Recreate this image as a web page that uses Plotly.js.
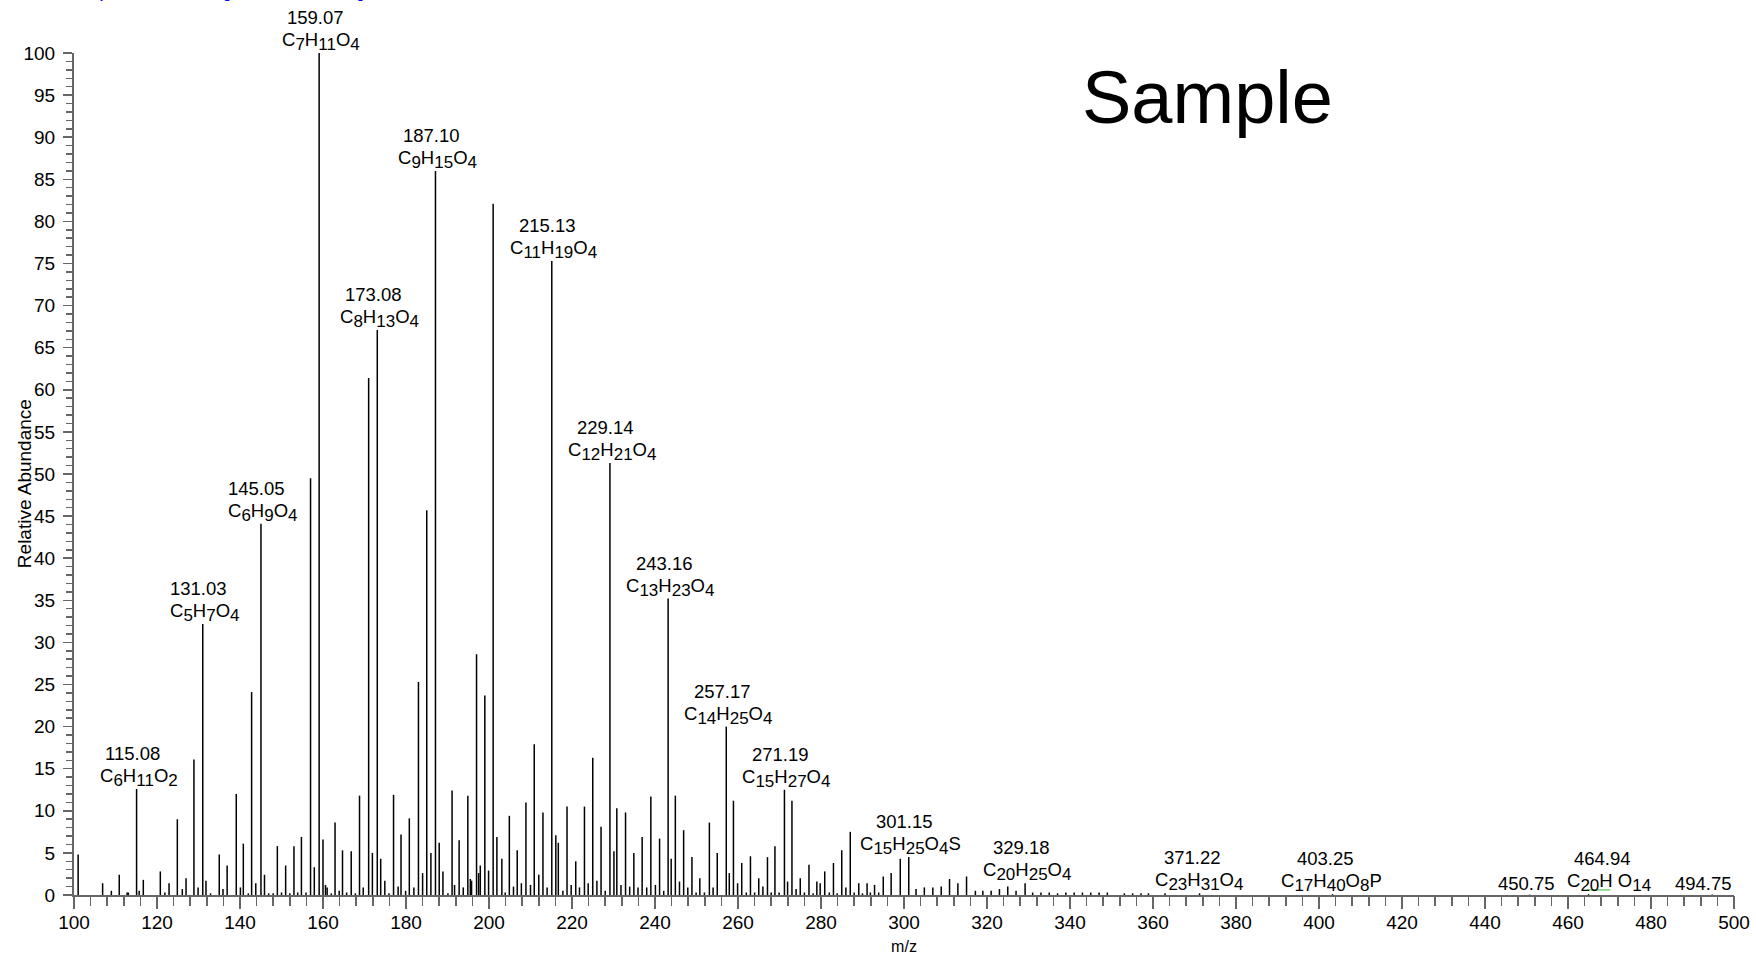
<!DOCTYPE html>
<html><head><meta charset="utf-8">
<script src="https://cdn.plot.ly/plotly-3.0.1.min.js"></script>
<style>html,body{margin:0;padding:0;background:#fff}#chart{width:1756px;height:955px}</style>
</head><body><div id="chart"></div>
<script>
// ---- data ----
const peakMz = [
101.0,106.9,109.0,110.9,112.8,113.1,115.08,115.7,116.7,120.8,
121.9,122.9,124.9,126.1,127.0,128.9,129.9,131.03,131.8,132.9,
135.0,135.9,136.9,139.1,140.1,140.8,142.0,142.8,143.8,145.05,
145.9,146.9,148.0,149.0,150.0,151.0,152.0,153.0,153.9,154.8,
155.9,157.0,157.9,159.07,160.0,160.6,161.0,162.0,162.9,163.9,
164.7,165.7,166.8,167.8,168.8,169.7,171.0,171.9,173.08,173.9,
174.9,175.9,177.0,178.1,178.8,179.9,180.8,181.9,183.0,184.0,
185.0,186.0,187.10,188.0,188.9,190.1,191.1,191.7,192.8,193.8,
194.9,195.5,195.8,197.0,197.5,197.9,199.0,199.9,201.0,201.9,
203.1,203.9,204.9,205.9,206.8,207.8,208.9,210.0,210.9,212.0,
213.0,214.0,215.13,216.1,216.7,217.8,218.8,219.8,220.9,221.8,
223.0,223.9,225.0,226.0,227.0,228.0,229.14,230.1,230.8,231.8,
232.9,233.9,234.9,235.9,236.9,238.0,239.0,240.1,241.1,242.1,
243.16,243.9,244.9,245.9,246.9,247.9,248.9,249.9,250.8,251.9,
253.1,254.0,255.0,257.17,257.9,258.9,259.9,260.9,262.0,263.0,
264.0,265.0,266.0,267.1,268.0,268.9,269.9,271.19,271.95,273.0,
274.0,275.0,276.0,277.1,278.1,279.0,279.8,280.9,282.0,283.0,
283.9,285.0,286.0,287.05,288.0,289.1,290.0,291.1,291.9,292.9,
293.9,295.0,296.9,299.1,301.15,302.9,304.9,306.95,308.97,310.97,
312.98,315.07,317.2,319.0,321.0,323.0,325.0,327.0,329.18,331.0,
333.0,335.0,337.0,339.0,341.0,343.0,345.0,347.0,349.0,353.1,
355.1,357.1,358.9,362.9,371.22,403.25,450.75,464.94,494.75
];
const peakAbundance = [
4.8,1.4,0.5,2.4,0.3,0.3,12.6,0.5,1.8,2.8,
0.3,1.4,9.0,0.7,2.0,16.1,0.9,32.2,1.7,0.2,
4.8,0.7,3.5,12.0,0.9,6.1,0.2,24.1,1.4,44.1,
2.4,0.2,0.2,5.8,0.3,3.5,0.2,5.8,0.3,6.9,
0.3,49.5,3.3,100,6.6,1.2,0.9,0.2,8.6,0.5,
5.3,0.3,5.2,0.2,11.8,0.9,61.4,5.0,67.1,4.3,
1.7,0.2,11.9,1.0,7.2,0.5,9.1,0.9,25.3,2.6,
45.7,5.0,86.0,6.2,2.8,0.2,12.4,1.2,6.5,0.9,
11.8,1.9,1.7,28.6,2.6,3.5,23.7,2.9,82.1,6.9,
4.3,0.3,9.4,1.0,5.3,1.4,11.0,1.2,17.9,2.4,
9.8,0.9,75.3,7.1,6.2,0.5,10.5,1.2,4.0,0.9,
10.5,1.4,16.3,1.7,8.1,0.5,51.3,5.2,10.3,1.2,
9.8,1.0,5.0,0.9,6.9,0.9,11.7,1.2,6.7,0.5,
35.2,4.3,11.8,1.6,7.7,0.9,4.5,0.3,2.0,0.3,
8.6,0.9,5.0,20.0,2.6,11.2,1.4,3.8,0.3,4.6,
0.3,2.0,1.0,4.5,0.3,5.8,0.3,12.5,1.6,11.2,
0.7,2.0,0.3,3.6,0.2,1.6,1.4,2.8,0.3,3.8,
0.2,5.3,0.9,7.5,0.3,1.4,0.2,1.4,0.3,1.2,
0.3,2.2,2.6,4.3,4.5,0.7,0.9,0.9,1.0,1.9,
1.4,2.2,0.5,0.5,0.5,0.7,1.0,0.5,1.4,0.3,
0.3,0.3,0.2,0.3,0.3,0.3,0.3,0.3,0.3,0.2,
0.2,0.2,0.2,0.2,0.2,0.1,0.05,0.1,0.05
];
const labelMz = [115.08,131.03,145.05,159.07,173.08,187.10,215.13,229.14,243.16,257.17,271.19,301.15,329.18,371.22,403.25,450.75,464.94,494.75];
const labelFormula = ["C6H11O2","C5H7O4","C6H9O4","C7H11O4","C8H13O4","C9H15O4","C11H19O4","C12H21O4","C13H23O4","C14H25O4","C15H27O4","C15H25O4S","C20H25O4","C23H31O4","C17H40O8P","","C20H O14",""];
const greenTraceMz = [464.6, 470.2];
const greenTraceAbundance = [0.6, 0.6];
const xTickStart = 100, xTickStep = 20, xMinorStep = 4;
const yTickStep = 5, yMinorStep = 1;
const headerText = "T: FTMS - p ESI Full ms [100.00-500.00]";
const sampleText = "Sample";
const xTitle = "m/z";
const yTitle = "Relative Abundance";

// ---- build traces ----
const FONT = "Liberation Sans, Arial, Helvetica, sans-serif";
const sx = [], sy = [];
peakMz.forEach((m, i) => { sx.push(m, m, null); sy.push(0, peakAbundance[i], null); });

const traces = [
  {x: sx, y: sy, type: 'scatter', mode: 'lines', line: {color: '#000', width: 1.5}, hoverinfo: 'skip', showlegend: false},
  {x: greenTraceMz, y: greenTraceAbundance, xaxis: 'x2', type: 'scatter', mode: 'lines', line: {color: '#33bb33', width: 1}, hoverinfo: 'skip', showlegend: false}
];

function fmtFormula(f) {
  return f.replace(/(\d+)/g, '<sub><span style="font-size:17px">$1</span></sub>');
}
const LABEL_SIZE = 18.5;
const labelShift = {"464.94": 18, "494.75": -6, "403.25": -3, "371.22": -3};
const annotations = [];
labelMz.forEach((m, i) => {
  let best = 0, bd = 1e9;
  peakMz.forEach((p, j) => { const d = Math.abs(p - m); if (d < bd) { bd = d; best = j; } });
  const h = peakAbundance[best];
  const key = m.toFixed(2);
  const sh = labelShift[key] || 0;
  if (labelFormula[i]) {
    annotations.push({x: m, y: h, xref: 'x', yref: 'y', text: fmtFormula(labelFormula[i]), showarrow: false,
      xanchor: 'center', yanchor: 'bottom', xshift: sh + 2, yshift: -3, font: {family: FONT, size: LABEL_SIZE, color: '#000'}});
    annotations.push({x: m, y: h, xref: 'x', yref: 'y', text: key, showarrow: false,
      xanchor: 'center', yanchor: 'bottom', xshift: sh - 4, yshift: 23, font: {family: FONT, size: LABEL_SIZE, color: '#000'}});
  } else {
    annotations.push({x: m, y: h, xref: 'x', yref: 'y', text: key, showarrow: false,
      xanchor: 'center', yanchor: 'bottom', xshift: sh - 3, yshift: -1, font: {family: FONT, size: LABEL_SIZE, color: '#000'}});
  }
});
annotations.push({text: sampleText, xref: 'paper', yref: 'paper', x: 0.6826, y: 0.9477, xanchor: 'center', yanchor: 'middle', showarrow: false, font: {family: FONT, size: 74, color: '#000'}});
annotations.push({text: yTitle, textangle: -90, xref: 'paper', yref: 'paper', x: -0.0301, y: 0.488, xanchor: 'center', yanchor: 'middle', showarrow: false, font: {family: FONT, size: 19, color: '#000'}});
annotations.push({text: headerText, xref: 'paper', yref: 'paper', x: -0.0422, y: 1, xanchor: 'left', yanchor: 'bottom', yshift: 50, showarrow: false, font: {family: FONT, size: 20, color: '#0000ff'}});

const axisGray = '#666';
const layout = {
  width: 1756, height: 955,
  margin: {l: 74, r: 22, t: 53, b: 60, pad: 0},
  paper_bgcolor: '#fff', plot_bgcolor: '#fff',
  font: {family: FONT, color: '#000'},
  showlegend: false,
  xaxis: {
    range: [100, 500], tickmode: 'linear', tick0: xTickStart, dtick: xTickStep,
    ticks: 'outside', ticklen: 9, tickwidth: 1.5, tickcolor: axisGray,
    minor: {dtick: xMinorStep, ticks: 'outside', ticklen: 9, tickwidth: 1.5, tickcolor: axisGray, showgrid: false},
    showline: true, linecolor: axisGray, linewidth: 2,
    showgrid: false, zeroline: false,
    tickfont: {family: FONT, size: 19, color: '#000'},
    ticklabelstandoff: 0,
    title: {text: xTitle, font: {family: FONT, size: 16, color: '#000'}, standoff: 16}
  },
  xaxis2: {
    overlaying: 'x', anchor: 'y', side: 'bottom',
    range: [100, 500], tickmode: 'linear', tick0: xTickStart, dtick: xTickStep,
    ticks: 'outside', ticklen: 13, tickwidth: 1.5, tickcolor: axisGray,
    showticklabels: false, showline: false, showgrid: false, zeroline: false
  },
  yaxis: {
    range: [0, 100], tickmode: 'linear', tick0: 0, dtick: yTickStep,
    ticks: 'outside', ticklen: 9, tickwidth: 1.5, tickcolor: axisGray,
    minor: {dtick: yMinorStep, ticks: 'outside', ticklen: 6, tickwidth: 1.5, tickcolor: axisGray, showgrid: false},
    showline: true, linecolor: axisGray, linewidth: 2,
    showgrid: false, zeroline: false,
    tickfont: {family: FONT, size: 19, color: '#000'},
    ticklabelstandoff: 4
  },
  annotations: annotations
};
Plotly.newPlot('chart', traces, layout, {displayModeBar: false, staticPlot: true});
</script>
</body></html>
